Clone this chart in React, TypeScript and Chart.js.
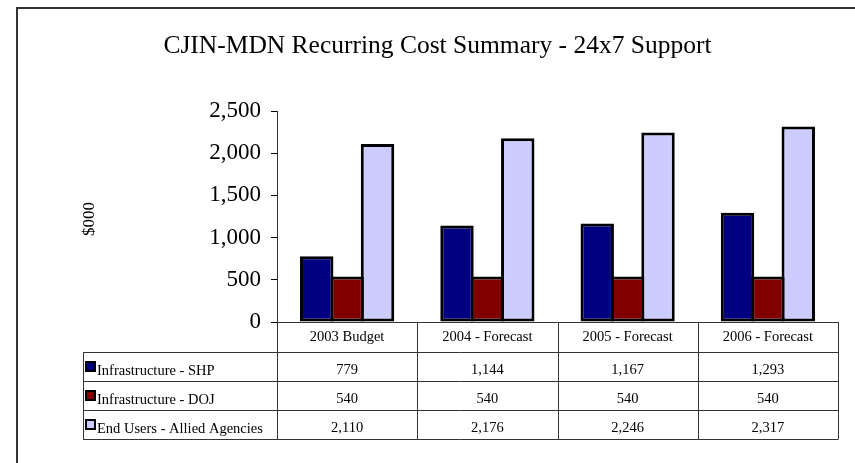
import React, { useEffect, useRef } from "react";
import { Chart, registerables } from "chart.js";

Chart.register(...registerables);

const TITLE = "CJIN-MDN Recurring Cost Summary - 24x7 Support";
const Y_TITLE = "$000";
const CATEGORIES = ["2003 Budget", "2004 - Forecast", "2005 - Forecast", "2006 - Forecast"];
const SERIES_NAMES = ["Infrastructure - SHP", "Infrastructure - DOJ", "End Users - Allied Agencies"];
const SHP = [779, 1144, 1167, 1293];
const DOJ = [540, 540, 540, 540];
const END_USERS = [2110, 2176, 2246, 2317];
const SERIES_VALUES = [SHP, DOJ, END_USERS];
const COLORS = ["#000080", "#800000", "#CCCCFF"];
const Y_MIN = 0;
const Y_MAX = 2500;
const Y_STEP = 500;

const FONT = "'Liberation Serif', 'Times New Roman', serif";
const fmt = (v: number) => v.toLocaleString("en-US");

const tablePlugin = {
  id: "excelTable",
  afterDraw(chart: any) {
    const ctx = chart.ctx as CanvasRenderingContext2D;
    const area = chart.chartArea;
    const xs = chart.scales.x;
    const n = CATEGORIES.length;
    const colW = (area.right - area.left) / n;
    const tableLeft = 83;
    const headerH = 30;
    const rowH = 29;
    const top = area.bottom;
    const headerBottom = top + headerH;
    const bottom = headerBottom + rowH * SERIES_NAMES.length;

    ctx.save();
    // frame
    ctx.strokeStyle = "#333";
    ctx.lineWidth = 2;
    ctx.strokeRect(17, 8, 900, 600);

    // title
    ctx.fillStyle = "#000";
    ctx.font = `25.5px ${FONT}`;
    ctx.textAlign = "center";
    ctx.textBaseline = "alphabetic";
    ctx.fillText(TITLE, 437.5, 53);

    // y title
    ctx.save();
    ctx.translate(94, 219);
    ctx.rotate(-Math.PI / 2);
    ctx.font = `17px ${FONT}`;
    ctx.textAlign = "center";
    ctx.fillText(Y_TITLE, 0, 0);
    ctx.restore();

    // table lines
    ctx.strokeStyle = "#333";
    ctx.lineWidth = 1;
    ctx.beginPath();
    ctx.moveTo(area.left, top + 0.5);
    ctx.lineTo(area.right, top + 0.5);
    for (let r = 0; r <= SERIES_NAMES.length; r++) {
      const y = Math.round(headerBottom + r * rowH) + 0.5;
      ctx.moveTo(tableLeft, y);
      ctx.lineTo(area.right, y);
    }
    for (let i = 0; i <= n; i++) {
      const x = Math.round(xs.getPixelForValue(0) - colW / 2 + i * colW) + 0.5;
      ctx.moveTo(x, top);
      ctx.lineTo(x, bottom + 0.5);
    }
    ctx.moveTo(tableLeft + 0.5, headerBottom);
    ctx.lineTo(tableLeft + 0.5, bottom + 0.5);
    ctx.stroke();

    // header text
    ctx.fillStyle = "#000";
    ctx.font = `14.5px ${FONT}`;
    ctx.textAlign = "center";
    CATEGORIES.forEach((c, i) => {
      ctx.fillText(c, xs.getPixelForValue(i), top + 19);
    });

    // rows
    SERIES_NAMES.forEach((name, r) => {
      const rowTop = headerBottom + r * rowH;
      ctx.fillStyle = "#000";
      ctx.fillRect(85, rowTop + 9, 11, 11);
      ctx.fillStyle = COLORS[r];
      ctx.fillRect(87, rowTop + 11, 7, 7);
      ctx.fillStyle = "#000";
      ctx.textAlign = "left";
      ctx.fillText(name, 97, rowTop + 23);
      ctx.textAlign = "center";
      SERIES_VALUES[r].forEach((v, i) => {
        ctx.fillText(fmt(v), xs.getPixelForValue(i), rowTop + 22);
      });
    });
    ctx.restore();
  },
};

export default function App() {
  const ref = useRef<HTMLCanvasElement | null>(null);
  useEffect(() => {
    if (!ref.current) return;
    const chart = new Chart(ref.current, {
      type: "bar",
      data: {
        labels: CATEGORIES,
        datasets: SERIES_NAMES.map((name, i) => ({
          label: name,
          data: SERIES_VALUES[i],
          backgroundColor: COLORS[i],
          borderColor: "#000",
          borderWidth: 3,
          borderSkipped: false,
          categoryPercentage: 0.65,
          barPercentage: 1.1,
        })),
      },
      options: {
        responsive: false,
        animation: false,
        layout: { padding: { top: 111, right: 17, bottom: 141, left: 0 } },
        plugins: {
          legend: { display: false },
          title: { display: false },
          tooltip: { enabled: false },
        },
        scales: {
          x: { display: false, offset: true },
          y: {
            min: Y_MIN,
            max: Y_MAX,
            ticks: {
              stepSize: Y_STEP,
              color: "#000",
              padding: 10,
              font: { family: FONT, size: 23 },
              callback: (v: any) => fmt(Number(v)),
            },
            grid: { drawOnChartArea: false, drawTicks: true, tickLength: 6, color: "#000" },
            border: { color: "#333", width: 1 },
            afterFit: (scale: any) => {
              scale.width = 277;
            },
          },
        },
      },
      plugins: [tablePlugin],
    });
    return () => chart.destroy();
  }, []);
  return (
    <div style={{ position: "fixed", left: 0, top: 0, width: 855, height: 463, background: "#fff" }}>
      <canvas ref={ref} width={855} height={463} style={{ display: "block" }} />
    </div>
  );
}
